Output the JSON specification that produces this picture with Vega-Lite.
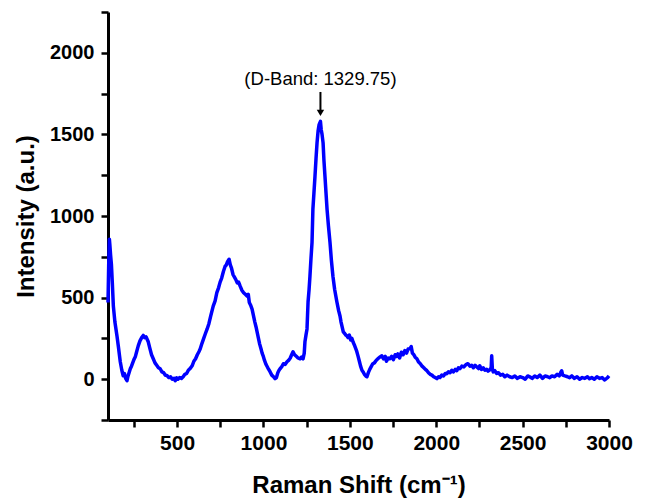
{
  "$schema": "https://vega.github.io/schema/vega-lite/v6.json",
  "width": 501,
  "height": 408,
  "autosize": "none",
  "padding": {"left": 108, "top": 12, "right": 38, "bottom": 83},
  "background": "white",
  "config": {
    "view": {"stroke": null},
    "font": "Liberation Sans",
    "axis": {"grid": false, "domainColor": "black", "tickColor": "black", "labelColor": "black", "titleColor": "black"}
  },
  "datasets": {
    "spectrum": [
      {"x":100,"y":470},{"x":104,"y":700},{"x":108,"y":858},{"x":111,"y":820},{"x":115,"y":760},{"x":120,"y":700},{"x":125,"y":590},{"x":131,"y":448},{"x":140,"y":350},{"x":152,"y":265},{"x":160,"y":200},{"x":171,"y":107},{"x":180,"y":55},{"x":188,"y":21},{"x":195,"y":35},{"x":202,"y":5},{"x":210,"y":-9},{"x":216,"y":20},{"x":222,"y":40},{"x":229,"y":64},{"x":236,"y":80},{"x":243,"y":100},{"x":250,"y":120},{"x":258,"y":137},{"x":265,"y":165},{"x":275,"y":204},{"x":285,"y":235},{"x":295,"y":255},{"x":304,"y":268},{"x":312,"y":255},{"x":320,"y":260},{"x":333,"y":229},{"x":342,"y":190},{"x":352,"y":150},{"x":362,"y":125},{"x":372,"y":100},{"x":382,"y":85},{"x":392,"y":70},{"x":402,"y":64},{"x":412,"y":45},{"x":422,"y":40},{"x":432,"y":25},{"x":443,"y":21},{"x":452,"y":10},{"x":462,"y":15},{"x":472,"y":0},{"x":482,"y":5},{"x":489,"y":-9},{"x":497,"y":8},{"x":505,"y":0},{"x":515,"y":10},{"x":525,"y":5},{"x":535,"y":15},{"x":545,"y":30},{"x":555,"y":35},{"x":565,"y":55},{"x":575,"y":65},{"x":587,"y":82},{"x":597,"y":110},{"x":607,"y":125},{"x":617,"y":150},{"x":627,"y":170},{"x":634,"y":186},{"x":644,"y":220},{"x":654,"y":250},{"x":664,"y":280},{"x":674,"y":308},{"x":684,"y":340},{"x":694,"y":385},{"x":709,"y":448},{"x":720,"y":480},{"x":730,"y":530},{"x":740,"y":560},{"x":749,"y":595},{"x":758,"y":620},{"x":768,"y":660},{"x":778,"y":692},{"x":785,"y":700},{"x":792,"y":720},{"x":801,"y":735},{"x":808,"y":700},{"x":815,"y":680},{"x":824,"y":640},{"x":832,"y":625},{"x":840,"y":610},{"x":848,"y":590},{"x":856,"y":595},{"x":865,"y":570},{"x":875,"y":545},{"x":885,"y":530},{"x":895,"y":520},{"x":905,"y":509},{"x":912,"y":520},{"x":918,"y":470},{"x":925,"y":455},{"x":934,"y":430},{"x":942,"y":390},{"x":950,"y":350},{"x":957,"y":320},{"x":963,"y":290},{"x":970,"y":255},{"x":978,"y":215},{"x":986,"y":185},{"x":992,"y":160},{"x":998,"y":143},{"x":1006,"y":115},{"x":1015,"y":90},{"x":1025,"y":70},{"x":1038,"y":46},{"x":1048,"y":25},{"x":1058,"y":15},{"x":1067,"y":3},{"x":1075,"y":10},{"x":1083,"y":40},{"x":1090,"y":55},{"x":1096,"y":64},{"x":1105,"y":75},{"x":1115,"y":95},{"x":1125,"y":90},{"x":1136,"y":107},{"x":1145,"y":115},{"x":1155,"y":130},{"x":1163,"y":150},{"x":1171,"y":168},{"x":1180,"y":150},{"x":1190,"y":140},{"x":1200,"y":130},{"x":1212,"y":125},{"x":1220,"y":135},{"x":1229,"y":125},{"x":1236,"y":160},{"x":1240,"y":229},{"x":1246,"y":270},{"x":1252,"y":308},{"x":1258,"y":473},{"x":1264,"y":550},{"x":1269,"y":631},{"x":1275,"y":740},{"x":1281,"y":838},{"x":1286,"y":1040},{"x":1292,"y":1140},{"x":1298,"y":1241},{"x":1304,"y":1350},{"x":1310,"y":1448},{"x":1316,"y":1520},{"x":1322,"y":1560},{"x":1329.75,"y":1580},{"x":1334,"y":1530},{"x":1339,"y":1500},{"x":1345,"y":1448},{"x":1350,"y":1340},{"x":1356,"y":1241},{"x":1362,"y":1140},{"x":1368,"y":1040},{"x":1376,"y":940},{"x":1385,"y":838},{"x":1393,"y":730},{"x":1402,"y":631},{"x":1412,"y":550},{"x":1425,"y":473},{"x":1435,"y":420},{"x":1443,"y":387},{"x":1449,"y":350},{"x":1454,"y":326},{"x":1462,"y":290},{"x":1470,"y":280},{"x":1477,"y":270},{"x":1483,"y":265},{"x":1490,"y":255},{"x":1497,"y":270},{"x":1505,"y":240},{"x":1512,"y":250},{"x":1518,"y":229},{"x":1526,"y":210},{"x":1533,"y":190},{"x":1540,"y":170},{"x":1547,"y":143},{"x":1555,"y":110},{"x":1562,"y":80},{"x":1570,"y":55},{"x":1576,"y":46},{"x":1584,"y":30},{"x":1592,"y":20},{"x":1599,"y":15},{"x":1607,"y":40},{"x":1615,"y":60},{"x":1625,"y":80},{"x":1633,"y":95},{"x":1642,"y":100},{"x":1652,"y":115},{"x":1662,"y":125},{"x":1672,"y":135},{"x":1685,"y":143},{"x":1695,"y":125},{"x":1705,"y":140},{"x":1712,"y":110},{"x":1722,"y":130},{"x":1732,"y":125},{"x":1742,"y":140},{"x":1752,"y":120},{"x":1762,"y":150},{"x":1770,"y":140},{"x":1778,"y":155},{"x":1788,"y":130},{"x":1798,"y":165},{"x":1808,"y":150},{"x":1818,"y":175},{"x":1828,"y":160},{"x":1837,"y":185},{"x":1847,"y":186},{"x":1855,"y":200},{"x":1862,"y":160},{"x":1870,"y":150},{"x":1878,"y":135},{"x":1888,"y":125},{"x":1898,"y":105},{"x":1908,"y":95},{"x":1918,"y":80},{"x":1928,"y":70},{"x":1937,"y":60},{"x":1946,"y":52},{"x":1955,"y":40},{"x":1965,"y":30},{"x":1975,"y":25},{"x":1985,"y":15},{"x":1995,"y":10},{"x":2004,"y":3},{"x":2013,"y":15},{"x":2022,"y":10},{"x":2032,"y":25},{"x":2042,"y":20},{"x":2052,"y":35},{"x":2061,"y":34},{"x":2070,"y":45},{"x":2080,"y":40},{"x":2090,"y":55},{"x":2100,"y":45},{"x":2110,"y":60},{"x":2119,"y":52},{"x":2128,"y":70},{"x":2138,"y":65},{"x":2148,"y":80},{"x":2160,"y":75},{"x":2172,"y":90},{"x":2183,"y":95},{"x":2195,"y":80},{"x":2205,"y":85},{"x":2215,"y":70},{"x":2225,"y":85},{"x":2235,"y":75},{"x":2245,"y":65},{"x":2252,"y":82},{"x":2262,"y":60},{"x":2272,"y":70},{"x":2282,"y":55},{"x":2292,"y":60},{"x":2300,"y":50},{"x":2310,"y":58},{"x":2318,"y":70},{"x":2321,"y":143},{"x":2325,"y":60},{"x":2330,"y":45},{"x":2339,"y":52},{"x":2350,"y":35},{"x":2360,"y":40},{"x":2372,"y":25},{"x":2385,"y":30},{"x":2397,"y":15},{"x":2410,"y":25},{"x":2425,"y":15},{"x":2440,"y":10},{"x":2455,"y":20},{"x":2470,"y":5},{"x":2485,"y":15},{"x":2500,"y":10},{"x":2515,"y":0},{"x":2530,"y":20},{"x":2541,"y":15},{"x":2555,"y":5},{"x":2570,"y":20},{"x":2585,"y":10},{"x":2600,"y":25},{"x":2615,"y":5},{"x":2630,"y":20},{"x":2645,"y":15},{"x":2657,"y":9},{"x":2670,"y":20},{"x":2685,"y":15},{"x":2700,"y":30},{"x":2712,"y":20},{"x":2720,"y":40},{"x":2726,"y":52},{"x":2732,"y":25},{"x":2745,"y":20},{"x":2760,"y":15},{"x":2772,"y":9},{"x":2785,"y":20},{"x":2800,"y":5},{"x":2815,"y":15},{"x":2830,"y":0},{"x":2845,"y":10},{"x":2860,"y":5},{"x":2875,"y":15},{"x":2887,"y":3},{"x":2900,"y":10},{"x":2915,"y":0},{"x":2930,"y":15},{"x":2945,"y":5},{"x":2960,"y":10},{"x":2975,"y":-5},{"x":2991,"y":9},{"x":3000,"y":20}
    ],
    "arrow": [{"x": 1329.75, "y1": 1760, "y2": 1632}],
    "annot": [{"x": 1329.75, "y": 1838, "label": "(D-Band: 1329.75)"}]
  },
  "encoding": {
    "x": {"type": "quantitative", "scale": {"domain": [100, 3000]},
      "axis": {"values": [250, 500, 750, 1000, 1250, 1500, 1750, 2000, 2250, 2500, 2750, 3000], "format": "d",
        "labelExpr": "datum.value % 500 === 0 ? datum.label : ''",
        "tickSize": 7, "tickWidth": 2.5, "domainWidth": 3,
        "labelFontSize": 21, "labelFontWeight": "bold", "labelPadding": 5, "labelFlush": false,
        "title": "Raman Shift (cm⁻¹)", "titleFontSize": 24, "titleFontWeight": "bold", "titlePadding": 20}},
    "y": {"type": "quantitative", "scale": {"domain": [-250, 2250]},
      "axis": {"values": [-250, 0, 250, 500, 750, 1000, 1250, 1500, 1750, 2000, 2250], "format": "d",
        "labelExpr": "datum.value % 500 === 0 ? datum.label : ''",
        "tickSize": 7, "tickWidth": 2.5, "domainWidth": 3,
        "labelFontSize": 20, "labelFontWeight": "bold", "labelPadding": 7,
        "title": "Intensity (a.u.)", "titleFontSize": 24, "titleFontWeight": "bold", "titlePadding": 11}}
  },
  "layer": [
    {
      "data": {"name": "spectrum"},
      "mark": {"type": "line", "color": "#0000ff", "strokeWidth": 3.5, "strokeJoin": "round"},
      "encoding": {"x": {"field": "x"}, "y": {"field": "y"}}
    },
    {
      "data": {"name": "arrow"},
      "mark": {"type": "rule", "color": "black", "strokeWidth": 2},
      "encoding": {"x": {"field": "x"}, "y": {"field": "y1"}, "y2": {"field": "y2"}}
    },
    {
      "data": {"name": "arrow"},
      "mark": {"type": "point", "shape": "triangle-down", "filled": true, "color": "black", "opacity": 1, "size": 55},
      "encoding": {"x": {"field": "x"}, "y": {"field": "y2"}}
    },
    {
      "data": {"name": "annot"},
      "mark": {"type": "text", "fontSize": 18.5, "baseline": "middle", "align": "center", "color": "black", "font": "Liberation Sans"},
      "encoding": {"x": {"field": "x"}, "y": {"field": "y"}, "text": {"field": "label"}}
    }
  ]
}
